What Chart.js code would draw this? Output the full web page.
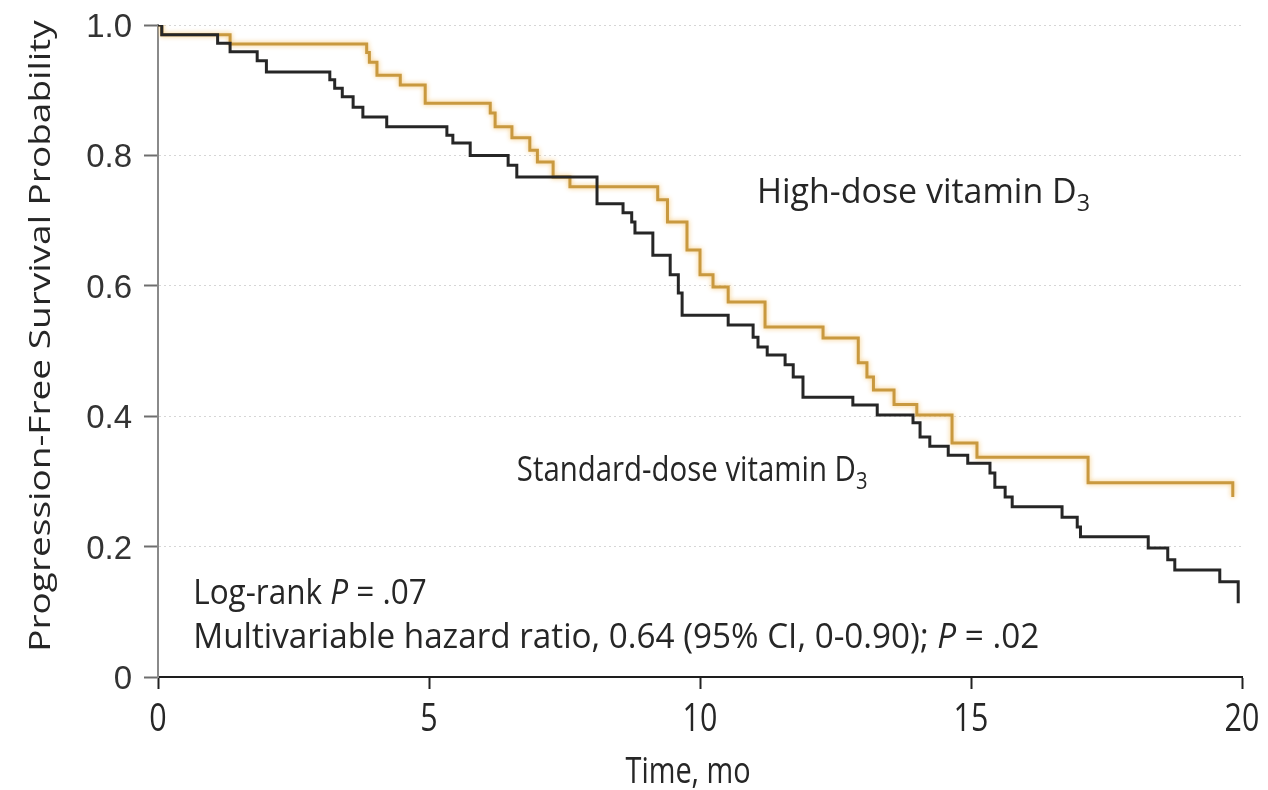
<!DOCTYPE html>
<html>
<head>
<meta charset="utf-8">
<title>Progression-Free Survival</title>
<script src="https://cdn.jsdelivr.net/npm/chart.js@4.4.1/dist/chart.umd.min.js"></script>
<style>
  html, body { margin: 0; padding: 0; background: #ffffff; }
  #wrap { width: 1268px; height: 790px; }
</style>
</head>
<body>
<div id="wrap"><canvas id="km" width="1268" height="790"></canvas></div>
<script>
// Axis ticks
const xTickValues = [0, 5, 10, 15, 20];
const xTickLabels = ['0', '5', '10', '15', '20'];
const yTickValues = [0, 0.2, 0.4, 0.6, 0.8, 1.0];
const yTickLabels = ['0', '0.2', '0.4', '0.6', '0.8', '1.0'];

// Kaplan-Meier step points: time of each drop (months) and survival after it
const standardTimes = [0, 0.07, 1.1, 1.33, 1.83, 2.0, 3.17, 3.26, 3.4, 3.6, 3.78, 4.22,
  5.33, 5.44, 5.76, 6.46, 6.62, 8.1, 8.58, 8.74, 8.8, 9.13, 9.45, 9.6, 9.67,
  10.52, 10.98, 11.07, 11.24, 11.57, 11.72, 11.9, 12.82, 13.27, 13.93, 14.06,
  14.24, 14.58, 14.94, 15.35, 15.44, 15.63, 15.76, 16.68, 16.96, 17.02, 18.27,
  18.63, 18.76, 19.59, 19.93];
const standardSurvival = [1.0, 0.985, 0.972, 0.959, 0.945, 0.928, 0.916, 0.903, 0.89, 0.874, 0.859, 0.844,
  0.831, 0.819, 0.80, 0.785, 0.767, 0.726, 0.712, 0.698, 0.681, 0.647, 0.617, 0.589, 0.555,
  0.54, 0.521, 0.506, 0.494, 0.479, 0.46, 0.429, 0.417, 0.402, 0.39, 0.368,
  0.354, 0.34, 0.328, 0.313, 0.291, 0.276, 0.261, 0.245, 0.23, 0.215, 0.198,
  0.18, 0.164, 0.146, 0.113];

const highTimes = [0, 0.07, 1.33, 3.85, 3.9, 4.04, 4.47, 4.93, 6.13, 6.22, 6.53, 6.86, 7.0,
  7.29, 7.6, 9.22, 9.4, 9.76, 10.0, 10.24, 10.52, 11.2, 12.27, 12.92, 13.08, 13.2,
  13.58, 14.0, 14.65, 15.11, 17.16, 19.83];
const highSurvival = [1.0, 0.985, 0.971, 0.958, 0.943, 0.923, 0.908, 0.88, 0.865, 0.844, 0.827, 0.808, 0.79,
  0.767, 0.752, 0.732, 0.698, 0.655, 0.617, 0.598, 0.575, 0.537, 0.52, 0.482, 0.46, 0.44,
  0.418, 0.402, 0.359, 0.337, 0.298, 0.276];

const seriesNames = ['Standard-dose vitamin D3', 'High-dose vitamin D3'];
const xTitle = 'Time, mo';
const yTitle = 'Progression-Free Survival Probability';

const TEXT_FONT = '"Open Sans", "Noto Sans", sans-serif';
const TICK_FONT = '"Liberation Sans", Arial, sans-serif';
const TEXT_COLOR = '#262626';

function toPoints(times, values) {
  return times.map((t, i) => ({ x: t, y: values[i] }));
}

function partFont(p, size) {
  const s = p.sub ? Math.round(size * 0.68) : size;
  return (p.italic ? 'italic ' : '') + s + 'px ' + TEXT_FONT;
}

// Draws a run of text pieces (regular / italic / subscript), optionally squeezed
function drawRich(ctx, parts, x, y, size, opts) {
  const o = Object.assign({ sx: 0.9, align: 'left', rotate: false }, opts || {});
  ctx.save();
  ctx.translate(x, y);
  if (o.rotate) { ctx.rotate(-Math.PI / 2); ctx.scale(1, o.sx); }
  else { ctx.scale(o.sx, 1); }
  ctx.fillStyle = TEXT_COLOR;
  ctx.textBaseline = 'alphabetic';
  ctx.textAlign = 'left';
  let total = 0;
  const widths = parts.map(p => {
    ctx.font = partFont(p, size);
    const w = ctx.measureText(p.text).width;
    total += w;
    return w;
  });
  let cx = o.align === 'center' ? -total / 2 : (o.align === 'right' ? -total : 0);
  parts.forEach((p, i) => {
    ctx.font = partFont(p, size);
    ctx.fillText(p.text, cx, p.sub ? size * 0.24 : 0);
    cx += widths[i];
  });
  ctx.restore();
}

function withSubscript(name) {
  return [{ text: name.slice(0, -1) }, { text: name.slice(-1), sub: true }];
}

// Text placed in data coordinates: [x (months), baseline y (probability)]
const annotations = [
  { at: [11.05, 0.727], sx: 0.97, parts: withSubscript(seriesNames[1]) },
  { at: [6.62, 0.301], sx: 0.84, parts: withSubscript(seriesNames[0]) },
  { at: [0.65, 0.112], sx: 0.9, parts: [{ text: 'Log-rank ' }, { text: 'P', italic: true }, { text: ' = .07' }] },
  { at: [0.65, 0.045], sx: 0.95, parts: [{ text: 'Multivariable hazard ratio, 0.64 (95% CI, 0-0.90); ' }, { text: 'P', italic: true }, { text: ' = .02' }] }
];

const textPlugin = {
  id: 'kmText',
  beforeDatasetDraw(chart, args) {
    if (args.index === 1) {
      const ctx = chart.ctx;
      ctx.save();
      ctx.shadowColor = 'rgba(246, 196, 110, 0.95)';
      ctx.shadowBlur = 5;
    }
  },
  afterDatasetDraw(chart, args) {
    if (args.index === 1) chart.ctx.restore();
  },
  afterDraw(chart) {
    const ctx = chart.ctx;
    const xs = chart.scales.x, ys = chart.scales.y;
    // y tick labels
    ctx.save();
    ctx.font = '33px ' + TICK_FONT;
    ctx.fillStyle = '#333333';
    ctx.textAlign = 'right';
    ctx.textBaseline = 'alphabetic';
    yTickValues.forEach((v, i) => {
      ctx.fillText(yTickLabels[i], xs.left - 26, ys.getPixelForValue(v) + 12);
    });
    ctx.restore();
    // x tick labels
    xTickValues.forEach((v, i) => {
      drawRich(ctx, [{ text: xTickLabels[i] }], xs.getPixelForValue(v), ys.bottom + 54, 38, { align: 'center', sx: 0.8 });
    });
    // axis titles
    drawRich(ctx, [{ text: xTitle }], xs.getPixelForValue(9.78), 783, 37, { align: 'center', sx: 0.78 });
    drawRich(ctx, [{ text: yTitle }], 50, ys.getPixelForValue(0.523), 37, { align: 'center', rotate: true, sx: 0.8 });
    // in-plot labels
    annotations.forEach(a => {
      drawRich(ctx, a.parts, xs.getPixelForValue(a.at[0]), ys.getPixelForValue(a.at[1]), 35, { sx: a.sx });
    });
  }
};

new Chart(document.getElementById('km'), {
  type: 'line',
  data: {
    datasets: [
      {
        label: seriesNames[0],
        data: toPoints(standardTimes, standardSurvival),
        stepped: true,
        borderColor: '#262626',
        borderWidth: 3,
        pointRadius: 0,
        fill: false
      },
      {
        label: seriesNames[1],
        data: toPoints(highTimes, highSurvival),
        stepped: true,
        borderColor: '#c9993f',
        borderWidth: 3,
        pointRadius: 0,
        fill: false
      }
    ]
  },
  options: {
    responsive: false,
    devicePixelRatio: 1,
    animation: false,
    layout: { padding: { left: 0, right: 26, top: 25, bottom: 0 } },
    plugins: { legend: { display: false }, tooltip: { enabled: false } },
    scales: {
      x: {
        type: 'linear',
        min: 0,
        max: 20,
        afterBuildTicks: s => { s.ticks = xTickValues.map(v => ({ value: v })); },
        afterFit: s => { s.height = 113; },
        ticks: { display: false },
        grid: { drawOnChartArea: false, drawTicks: true, tickLength: 12, tickColor: '#222222', tickWidth: 2 },
        border: { color: '#1e1e1e', width: 2 }
      },
      y: {
        type: 'linear',
        min: 0,
        max: 1,
        afterBuildTicks: s => { s.ticks = yTickValues.map(v => ({ value: v })); },
        afterFit: s => { s.width = 158; },
        ticks: { display: false },
        grid: { color: 'rgba(0,0,0,0.16)', lineWidth: 1, drawTicks: true, tickLength: 14, tickColor: '#6e6e6e', tickWidth: 2 },
        border: { color: '#8a8a8a', width: 2, dash: [2, 3] }
      }
    }
  },
  plugins: [textPlugin]
});
</script>
</body>
</html>
